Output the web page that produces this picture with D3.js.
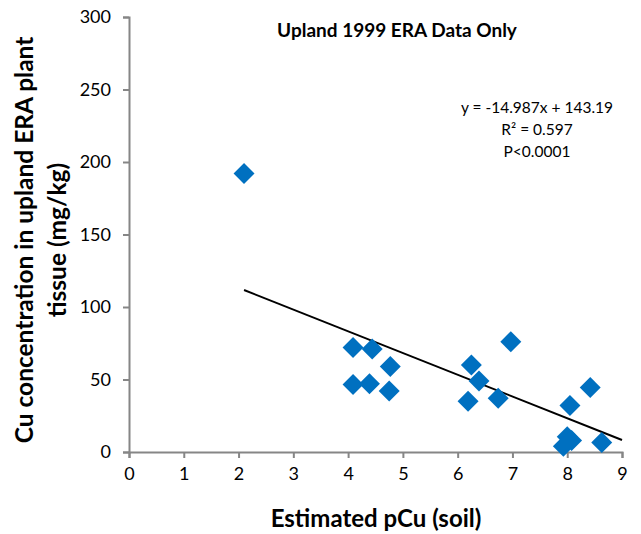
<!DOCTYPE html>
<html>
<head>
<meta charset="utf-8">
<script src="https://cdn.jsdelivr.net/npm/d3@7"></script>
<style>
  body { margin: 0; background: #fff; }
  svg text { font-family: Lato, "Open Sans", sans-serif; fill: #000; }
  .axis path, .axis line { stroke: #868686; stroke-width: 2; }
  .axis text { font-size: 18px; }
</style>
</head>
<body>
<div class="chart"></div>
<script>
// Data.
const pCu = [2.10, 4.09, 4.44, 4.09, 4.39, 4.77, 4.75, 6.25, 6.39, 6.19, 6.74, 6.97, 8.05, 8.42, 8.00, 7.93, 8.08, 8.63];
const cuTissue = [192, 72, 71, 46.5, 47, 59, 42, 60, 49, 35, 37, 76, 32, 44.5, 10.5, 4, 8, 6.5];
const xTicks = [0, 1, 2, 3, 4, 5, 6, 7, 8, 9];
const yTicks = [0, 50, 100, 150, 200, 250, 300];
const trendSlope = -14.987;
const trendIntercept = 143.19;
const trendRange = [2.1, 9];
const statsLines = ['y = -14.987x + 143.19', 'R² = 0.597', 'P<0.0001'];

const width = 641, height = 534;
const margin = { top: 17, right: 19, bottom: 82, left: 129 };
const w = width - margin.left - margin.right;
const h = height - margin.top - margin.bottom;

const svg = d3.select('.chart').append('svg')
  .attr('width', width)
  .attr('height', height);

const g = svg.append('g')
  .attr('transform', `translate(${margin.left}, ${margin.top})`);

const x = d3.scaleLinear().domain([0, 9]).range([0, w]);
const y = d3.scaleLinear().domain([0, 300]).range([h, 0]);

// Axes.
g.append('g')
  .attr('class', 'x axis')
  .attr('transform', `translate(0, ${h})`)
  .call(d3.axisBottom(x).tickValues(xTicks).tickSize(6).tickPadding(9))
  .call(s => s.selectAll('text').attr('dy', '0.71em'));

g.append('g')
  .attr('class', 'y axis')
  .call(d3.axisLeft(y).tickValues(yTicks).tickSize(6).tickPadding(12));

// Trend line.
const trend = trendRange.map(v => ({ x: v, y: trendSlope * v + trendIntercept }));
g.append('path')
  .datum(trend)
  .attr('d', d3.line().x(d => x(d.x)).y(d => y(d.y)))
  .style('fill', 'none')
  .style('stroke', '#000')
  .style('stroke-width', 2);

// Points (diamonds).
const diamond = d3.symbol().type(d3.symbolSquare).size(220);
g.selectAll('.pt')
  .data(pCu.map((v, i) => ({ x: v, y: cuTissue[i] })))
  .enter()
  .append('path')
  .attr('class', 'pt')
  .attr('d', diamond)
  .attr('transform', d => `translate(${x(d.x)}, ${y(d.y)}) rotate(45)`)
  .style('fill', '#0070C0');

// Title.
svg.append('text')
  .attr('x', 397)
  .attr('y', 37)
  .attr('text-anchor', 'middle')
  .style('font-size', '19px')
  .style('font-weight', 'bold')
  .text('Upland 1999 ERA Data Only');

// Regression stats.
svg.append('g')
  .selectAll('text')
  .data(statsLines)
  .enter()
  .append('text')
  .attr('x', 537)
  .attr('y', (d, i) => 113 + i * 22)
  .attr('text-anchor', 'middle')
  .style('font-size', '15.5px')
  .text(d => d);

// Axis titles.
svg.append('text')
  .attr('x', 376)
  .attr('y', 527)
  .attr('text-anchor', 'middle')
  .style('font-size', '24px')
  .style('font-weight', 'bold')
  .text('Estimated pCu (soil)');

const yTitle = svg.append('text')
  .attr('transform', 'translate(0, 240) rotate(-90)')
  .attr('text-anchor', 'middle')
  .style('font-size', '24.5px')
  .style('font-weight', 'bold');
yTitle.append('tspan').attr('x', 0).attr('y', 33).text('Cu concentration in upland ERA plant');
yTitle.append('tspan').attr('x', 0).attr('y', 66).text('tissue (mg/kg)');
</script>
</body>
</html>
